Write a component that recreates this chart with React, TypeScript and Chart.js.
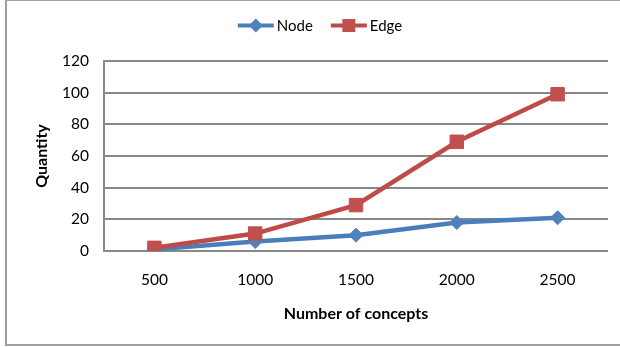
import React, { useEffect, useRef } from "react";
import { Chart, registerables } from "chart.js";

Chart.register(...registerables);

// Graph size measured for each concept-set size
const conceptCounts = ["500", "1000", "1500", "2000", "2500"];
const nodeCounts = [1, 6, 10, 18, 21];
const edgeCounts = [2, 11, 29, 69, 99];
const seriesNames = ["Node", "Edge"];
const yTicks = [0, 20, 40, 60, 80, 100, 120];
const xTitle = "Number of concepts";
const yTitle = "Quantity";

const FONT = "Lato, 'Open Sans', 'DejaVu Sans', sans-serif";
const GRID = "#888888";
const NODE_LINE = "#4A7EBB";
const NODE_FILL = "#4F81BD";
const EDGE_LINE = "#BE4B48";
const EDGE_FILL = "#C0504D";

// Legend drawn as "line + marker + label", the way office charts show it
const lineLegend = {
  id: "lineLegend",
  afterDraw(chart: any) {
    const ctx: CanvasRenderingContext2D = chart.ctx;
    ctx.save();
    ctx.font = `15px ${FONT}`;
    const seg = 36;
    const gapText = 3;
    const gapItem = 18;
    const items = chart.data.datasets.map((ds: any) => ({
      ds,
      w: ctx.measureText(ds.label).width,
    }));
    const total =
      items.reduce((s: number, it: any) => s + seg + gapText + it.w, 0) +
      gapItem * (items.length - 1);
    let x = chart.width / 2 + 10 - total / 2;
    const y = 25.5;
    for (const it of items) {
      const ds = it.ds;
      ctx.strokeStyle = ds.borderColor;
      ctx.lineWidth = 4;
      ctx.beginPath();
      ctx.moveTo(x, y);
      ctx.lineTo(x + seg, y);
      ctx.stroke();
      const cx = x + seg / 2;
      ctx.fillStyle = ds.pointBackgroundColor;
      ctx.beginPath();
      if (ds.pointStyle === "rectRot") {
        const r = 7;
        ctx.moveTo(cx - r, y);
        ctx.lineTo(cx, y - r);
        ctx.lineTo(cx + r, y);
        ctx.lineTo(cx, y + r);
        ctx.closePath();
      } else {
        const h = 6.5;
        ctx.rect(cx - h, y - h, h * 2, h * 2);
      }
      ctx.fill();
      ctx.fillStyle = "#000";
      ctx.textBaseline = "middle";
      ctx.textAlign = "left";
      ctx.fillText(ds.label, x + seg + gapText, y + 1);
      x += seg + gapText + it.w + gapItem;
    }
    ctx.restore();
  },
};

export default function App() {
  const canvasRef = useRef<HTMLCanvasElement | null>(null);

  useEffect(() => {
    document.body.style.margin = "0";
    const canvas = canvasRef.current;
    if (!canvas) return;
    const chart = new Chart(canvas, {
      type: "line",
      data: {
        labels: conceptCounts,
        datasets: [
          {
            label: seriesNames[0],
            data: nodeCounts,
            borderColor: NODE_LINE,
            backgroundColor: NODE_FILL,
            borderWidth: 4.5,
            pointStyle: "rectRot",
            pointRadius: 7,
            pointBorderWidth: 1,
            pointBackgroundColor: NODE_FILL,
            pointBorderColor: NODE_FILL,
            tension: 0,
            order: 1,
          },
          {
            label: seriesNames[1],
            data: edgeCounts,
            borderColor: EDGE_LINE,
            backgroundColor: EDGE_FILL,
            borderWidth: 4.5,
            pointStyle: "rect",
            pointRadius: 9.5,
            pointBorderWidth: 1,
            pointBackgroundColor: EDGE_FILL,
            pointBorderColor: EDGE_FILL,
            tension: 0,
            order: 0,
          },
        ],
      },
      options: {
        responsive: false,
        animation: false,
        devicePixelRatio: 1,
        layout: { padding: { top: 61, right: 12, bottom: 0, left: 0 } },
        plugins: {
          legend: { display: false },
          tooltip: { enabled: false },
        },
        scales: {
          x: {
            type: "category",
            offset: true,
            grid: { display: false, drawTicks: false },
            border: { display: false },
            ticks: {
              color: "#000",
              padding: 20,
              font: { family: FONT, size: 15.5 },
            },
            title: {
              display: true,
              text: xTitle,
              color: "#000",
              padding: { top: 0, bottom: 24 },
              font: { family: FONT, size: 16, weight: "bold" },
            },
            afterFit: (s: any) => {
              s.height = 96;
            },
          },
          y: {
            min: yTicks[0],
            max: yTicks[yTicks.length - 1],
            ticks: {
              stepSize: yTicks[1] - yTicks[0],
              color: "#000",
              padding: 15,
              font: { family: FONT, size: 15.5 },
            },
            grid: { color: GRID, lineWidth: 2, drawTicks: false },
            border: { display: true, color: GRID, width: 2 },
            title: {
              display: true,
              text: yTitle,
              color: "#000",
              padding: { top: 32, bottom: 0 },
              font: { family: FONT, size: 16, weight: "bold" },
            },
            afterFit: (s: any) => {
              s.width = 104;
            },
          },
        },
      },
      plugins: [lineLegend],
    });
    return () => chart.destroy();
  }, []);

  return (
    <div
      style={{
        position: "fixed",
        left: 0,
        top: 0,
        width: 620,
        height: 347,
        overflow: "hidden",
        background: "#fff",
      }}
    >
      <div
        style={{
          position: "absolute",
          left: 5,
          top: 0,
          width: 640,
          height: 343,
          borderTop: "1px solid #a0a0a0",
          borderLeft: "2px solid #a0a0a0",
          borderBottom: "2px solid #a0a0a0",
        }}
      />
      <canvas
        ref={canvasRef}
        width={620}
        height={347}
        style={{ position: "absolute", left: 0, top: 0, width: 620, height: 347 }}
      />
    </div>
  );
}
